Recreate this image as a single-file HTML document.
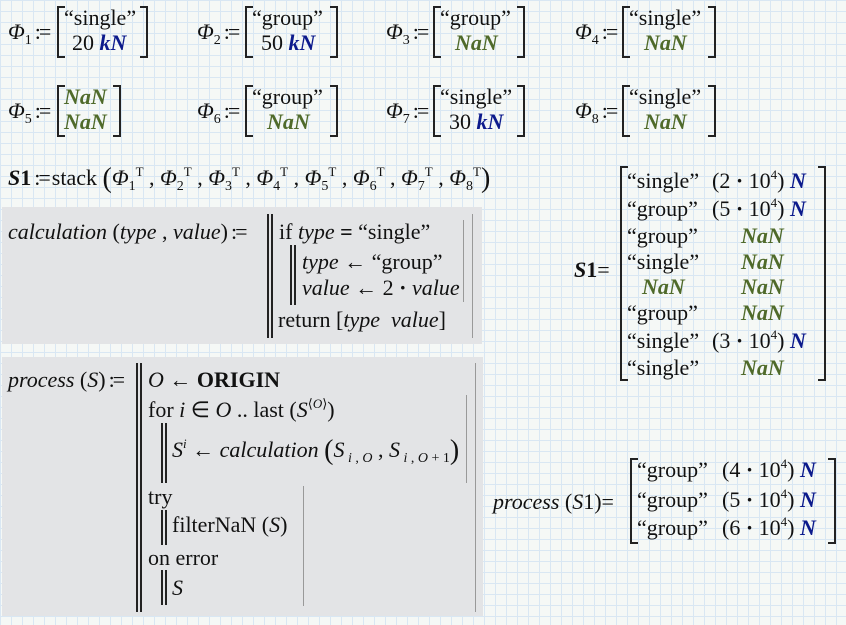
<!DOCTYPE html>
<html><head><meta charset="utf-8"><style>
html,body{margin:0;padding:0}
body{width:846px;height:625px;position:relative;overflow:hidden;background-color:#f5f8f6;
background-image:linear-gradient(#d9e7f3 1px,transparent 1px),linear-gradient(90deg,#d9e7f3 1px,transparent 1px);
background-size:11px 11px;font-family:"Liberation Serif",serif;font-size:22px;color:#111}
.t{position:absolute;white-space:nowrap;line-height:22px}
i{font-style:italic}
.b{font-weight:bold}
.k{color:#0c1a8c;font-weight:bold;font-style:italic}
.n{color:#4f6a2a;font-weight:bold;font-style:italic}
.br{position:absolute;border:2px solid #222;width:6px}
.bl{border-right:none}.brr{border-left:none}
.box{position:absolute;background:#e3e4e6}
.v{position:absolute;border-left:2px solid #222;border-right:2px solid #222;width:2px}
.g{position:absolute;width:1px;background:#999}
sub{font-size:14px;vertical-align:-5px;line-height:0}
sup{font-size:13px;vertical-align:9px;line-height:0}
.p{font-size:28px;line-height:0;vertical-align:-2px}
.c{letter-spacing:-2px;margin:0 3px}
</style></head><body>

<!-- Row 1 -->
<div class="t" style="left:8px;top:21px"><i>Φ</i><sub>1</sub><span class="c">:=</span></div>
<div class="br bl" style="left:57px;top:6px;height:48px"></div>
<div class="br brr" style="left:140px;top:6px;height:48px"></div>
<div class="t" style="left:64px;top:7px">“single”</div>
<div class="t" style="left:72px;top:32px">20 <span class="k">kN</span></div>

<div class="t" style="left:197px;top:21px"><i>Φ</i><sub>2</sub><span class="c">:=</span></div>
<div class="br bl" style="left:245px;top:6px;height:48px"></div>
<div class="br brr" style="left:330px;top:6px;height:48px"></div>
<div class="t" style="left:252px;top:7px">“group”</div>
<div class="t" style="left:261px;top:32px">50 <span class="k">kN</span></div>

<div class="t" style="left:386px;top:21px"><i>Φ</i><sub>3</sub><span class="c">:=</span></div>
<div class="br bl" style="left:433px;top:6px;height:48px"></div>
<div class="br brr" style="left:517px;top:6px;height:48px"></div>
<div class="t" style="left:440px;top:7px">“group”</div>
<div class="t n" style="left:455px;top:32px">NaN</div>

<div class="t" style="left:575px;top:21px"><i>Φ</i><sub>4</sub><span class="c">:=</span></div>
<div class="br bl" style="left:622px;top:6px;height:48px"></div>
<div class="br brr" style="left:708px;top:6px;height:48px"></div>
<div class="t" style="left:629px;top:7px">“single”</div>
<div class="t n" style="left:644px;top:32px">NaN</div>

<!-- Row 2 -->
<div class="t" style="left:8px;top:100px"><i>Φ</i><sub>5</sub><span class="c">:=</span></div>
<div class="br bl" style="left:57px;top:85px;height:48px"></div>
<div class="br brr" style="left:113px;top:85px;height:48px"></div>
<div class="t n" style="left:64px;top:86px">NaN</div>
<div class="t n" style="left:64px;top:111px">NaN</div>

<div class="t" style="left:197px;top:100px"><i>Φ</i><sub>6</sub><span class="c">:=</span></div>
<div class="br bl" style="left:245px;top:85px;height:48px"></div>
<div class="br brr" style="left:330px;top:85px;height:48px"></div>
<div class="t" style="left:252px;top:86px">“group”</div>
<div class="t n" style="left:267px;top:111px">NaN</div>

<div class="t" style="left:386px;top:100px"><i>Φ</i><sub>7</sub><span class="c">:=</span></div>
<div class="br bl" style="left:433px;top:85px;height:48px"></div>
<div class="br brr" style="left:517px;top:85px;height:48px"></div>
<div class="t" style="left:440px;top:86px">“single”</div>
<div class="t" style="left:449px;top:111px">30 <span class="k">kN</span></div>

<div class="t" style="left:575px;top:100px"><i>Φ</i><sub>8</sub><span class="c">:=</span></div>
<div class="br bl" style="left:622px;top:85px;height:48px"></div>
<div class="br brr" style="left:708px;top:85px;height:48px"></div>
<div class="t" style="left:629px;top:86px">“single”</div>
<div class="t n" style="left:644px;top:111px">NaN</div>

<!-- stack -->
<div class="t" style="left:8px;top:167px"><i class="b">S</i><span class="b">1</span><span class="c">:=</span>stack <span class="p">(</span><i>Φ</i><sub>1</sub><sup>T</sup> , <i>Φ</i><sub>2</sub><sup>T</sup> , <i>Φ</i><sub>3</sub><sup>T</sup> , <i>Φ</i><sub>4</sub><sup>T</sup> , <i>Φ</i><sub>5</sub><sup>T</sup> , <i>Φ</i><sub>6</sub><sup>T</sup> , <i>Φ</i><sub>7</sub><sup>T</sup> , <i>Φ</i><sub>8</sub><sup>T</sup><span class="p">)</span></div>

<!-- calculation box -->
<div class="box" style="left:2px;top:207px;width:480px;height:137px"></div>
<div class="t" style="left:8px;top:221px"><i>calculation</i> (<i>type</i> , <i>value</i>)<span class="c">:=</span></div>
<div class="v" style="left:267px;top:214px;height:124px"></div>
<div class="t" style="left:279px;top:221px">if <i>type</i> <b>=</b> “single”</div>
<div class="v" style="left:290px;top:245px;height:60px"></div>
<div class="t" style="left:302px;top:251px"><i>type</i> ← “group”</div>
<div class="t" style="left:302px;top:277px"><i>value</i> ← 2 <b>·</b> <i>value</i></div>
<div class="t" style="left:278px;top:309px">return [<i>type</i>&nbsp; <i>value</i>]</div>
<div class="g" style="left:463px;top:220px;height:82px"></div>
<div class="g" style="left:472px;top:214px;height:124px"></div>

<!-- process box -->
<div class="box" style="left:2px;top:357px;width:481px;height:259px"></div>
<div class="t" style="left:8px;top:369px"><i>process</i> (<i>S</i>)<span class="c">:=</span></div>
<div class="v" style="left:136px;top:363px;height:249px"></div>
<div class="t" style="left:148px;top:369px"><i>O</i> ← <b>ORIGIN</b></div>
<div class="t" style="left:148px;top:399px">for <i>i</i> ∈ <i>O</i> .. last (<i>S</i><sup>⟨<i>O</i>⟩</sup>)</div>
<div class="v" style="left:161px;top:423px;height:60px"></div>
<div class="t" style="left:172px;top:439px"><i>S</i><sup><i>i</i></sup> ← <i>calculation</i> <span class="p">(</span><i>S</i><sub> <i>i</i> , <i>O</i></sub> , <i>S</i><sub> <i>i</i> , <i>O</i> + 1</sub><span class="p">)</span></div>
<div class="t" style="left:148px;top:486px">try</div>
<div class="v" style="left:161px;top:510px;height:35px"></div>
<div class="t" style="left:172px;top:514px">filterNaN (<i>S</i>)</div>
<div class="t" style="left:148px;top:547px">on error</div>
<div class="v" style="left:161px;top:570px;height:35px"></div>
<div class="t" style="left:172px;top:577px"><i>S</i></div>
<div class="g" style="left:466px;top:395px;height:88px"></div>
<div class="g" style="left:303px;top:486px;height:120px"></div>
<div class="g" style="left:475px;top:363px;height:249px"></div>

<!-- S1 result -->
<div class="t" style="left:574px;top:259px"><i class="b">S</i><span class="b">1</span>=</div>
<div class="br bl" style="left:620px;top:166px;height:211px"></div>
<div class="br brr" style="left:818px;top:166px;height:211px"></div>
<div class="t" style="left:627px;top:170px">“single”</div><div class="t" style="left:712px;top:170px">(2 <b>·</b> 10<sup>4</sup>) <span class="k">N</span></div>
<div class="t" style="left:627px;top:198px">“group”</div><div class="t" style="left:712px;top:198px">(5 <b>·</b> 10<sup>4</sup>) <span class="k">N</span></div>
<div class="t" style="left:627px;top:225px">“group”</div><div class="t n" style="left:741px;top:225px">NaN</div>
<div class="t" style="left:627px;top:251px">“single”</div><div class="t n" style="left:741px;top:251px">NaN</div>
<div class="t n" style="left:642px;top:276px">NaN</div><div class="t n" style="left:741px;top:276px">NaN</div>
<div class="t" style="left:627px;top:302px">“group”</div><div class="t n" style="left:741px;top:302px">NaN</div>
<div class="t" style="left:627px;top:330px">“single”</div><div class="t" style="left:712px;top:330px">(3 <b>·</b> 10<sup>4</sup>) <span class="k">N</span></div>
<div class="t" style="left:627px;top:357px">“single”</div><div class="t n" style="left:741px;top:357px">NaN</div>

<!-- process result -->
<div class="t" style="left:493px;top:491px"><i>process</i> (<i>S</i>1)=</div>
<div class="br bl" style="left:630px;top:458px;height:82px"></div>
<div class="br brr" style="left:828px;top:458px;height:82px"></div>
<div class="t" style="left:637px;top:459px">“group”</div><div class="t" style="left:722px;top:459px">(4 <b>·</b> 10<sup>4</sup>) <span class="k">N</span></div>
<div class="t" style="left:637px;top:489px">“group”</div><div class="t" style="left:722px;top:489px">(5 <b>·</b> 10<sup>4</sup>) <span class="k">N</span></div>
<div class="t" style="left:637px;top:517px">“group”</div><div class="t" style="left:722px;top:517px">(6 <b>·</b> 10<sup>4</sup>) <span class="k">N</span></div>

</body></html>
